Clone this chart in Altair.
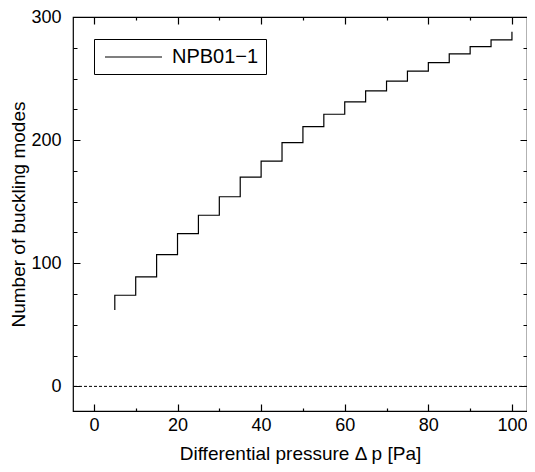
import altair as alt
import pandas as pd

# ---- data ----
pressure = [5, 5, 10, 15, 20, 25, 30, 35, 40, 45, 50, 55, 60, 65, 70, 75, 80, 85, 90, 95, 100]
modes = [62, 74, 89, 107, 124, 139, 154, 170, 183, 198, 211, 221, 231, 240, 248, 256, 263, 270, 276, 281.5, 288]
series_name = "NPB01\u22121"
x_major = [0, 20, 40, 60, 80, 100]
x_minor = [10, 30, 50, 70, 90]
y_major = [0, 100, 200, 300]
y_minor = [25, 50, 75, 125, 150, 175, 225, 250, 275]
x_domain = [-5, 103.6]
y_domain = [-20, 300]
zero_level = [0]

W, H = 454, 394
FONT = "Liberation Sans"
MAJ, MIN_X, MIN_Y = 7, 3, 4
GC = "black"
GW = 1.2

df = pd.DataFrame({"p": pressure, "n": modes, "order": list(range(len(pressure))),
                   "series": [series_name] * len(pressure)})
zero_df = pd.DataFrame({"z": zero_level})


def xs():
    return alt.Scale(domain=x_domain, nice=False, zero=False)


def ys():
    return alt.Scale(domain=y_domain, nice=False, zero=False)


main = alt.Chart(df).mark_line(interpolate="step-after", strokeWidth=1.2, color="black").encode(
    x=alt.X("p:Q", scale=xs(), axis=alt.Axis(
        values=x_major, orient="bottom", title="Differential pressure \u0394 p [Pa]",
        grid=True, gridDash=[MAJ, H - 2 * MAJ, MAJ], gridColor=GC, gridOpacity=1, gridWidth=GW,
        ticks=False, domain=False, labelPadding=5, titlePadding=10, format="d",
        labelFontSize=18, titleFontSize=19)),
    y=alt.Y("n:Q", scale=ys(), axis=alt.Axis(
        values=y_major, orient="left", title="Number of buckling modes",
        grid=True, gridDash=[MAJ, W - 2 * MAJ, MAJ], gridColor=GC, gridOpacity=1, gridWidth=GW,
        ticks=False, domain=False, labelPadding=12, titlePadding=2, format="d",
        labelFontSize=18, titleFontSize=19)),
    color=alt.Color("series:N", scale=alt.Scale(range=["black"]), legend=alt.Legend(
        orient="none", legendX=21, legendY=22,
        title="\u00a0", titleOrient="right", titleFontSize=10, titlePadding=1,
        symbolType="M-2.85,0H2.85", symbolSize=400, symbolStrokeWidth=1.1,
        symbolStrokeColor="black", symbolOffset=21.5, labelOffset=27.5,
        labelFontSize=20, labelFont=FONT, labelColor="black", padding=7,
        strokeColor="black", fillColor="white", cornerRadius=0)),
    order=alt.Order("order:Q"),
)

minor = alt.Chart(df).mark_line(opacity=0).encode(
    x=alt.X("p:Q", scale=xs(), axis=alt.Axis(
        values=x_minor, orient="bottom", title=None, labels=False, ticks=False, domain=False,
        grid=True, gridDash=[MIN_X, H - 2 * MIN_X, MIN_X], gridColor=GC, gridOpacity=1, gridWidth=GW)),
    y=alt.Y("n:Q", scale=ys(), axis=alt.Axis(
        values=y_minor, orient="left", title=None, labels=False, ticks=False, domain=False,
        grid=True, gridDash=[MIN_Y, W - 2 * MIN_Y, MIN_Y], gridColor=GC, gridOpacity=1, gridWidth=GW)),
)

zero_rule = alt.Chart(zero_df).mark_rule(color="black", strokeWidth=1, strokeDash=[3, 2]).encode(
    y=alt.Y("z:Q", scale=ys(), axis=None)
)

chart = alt.layer(minor, zero_rule, main).resolve_scale(x="independent", y="independent").properties(
    width=W, height=H,
    autosize=alt.AutoSizeParams(type="none"),
    padding={"left": 65, "top": 9, "right": 0, "bottom": 57},
).configure_view(stroke="black", strokeWidth=1.2).configure_axis(
    labelFont=FONT, titleFont=FONT, labelColor="black", titleColor="black", titleFontWeight="normal"
).configure_legend(labelFont=FONT, titleFont=FONT)

chart.save("out.html", embed_options={"renderer": "svg", "actions": False})
